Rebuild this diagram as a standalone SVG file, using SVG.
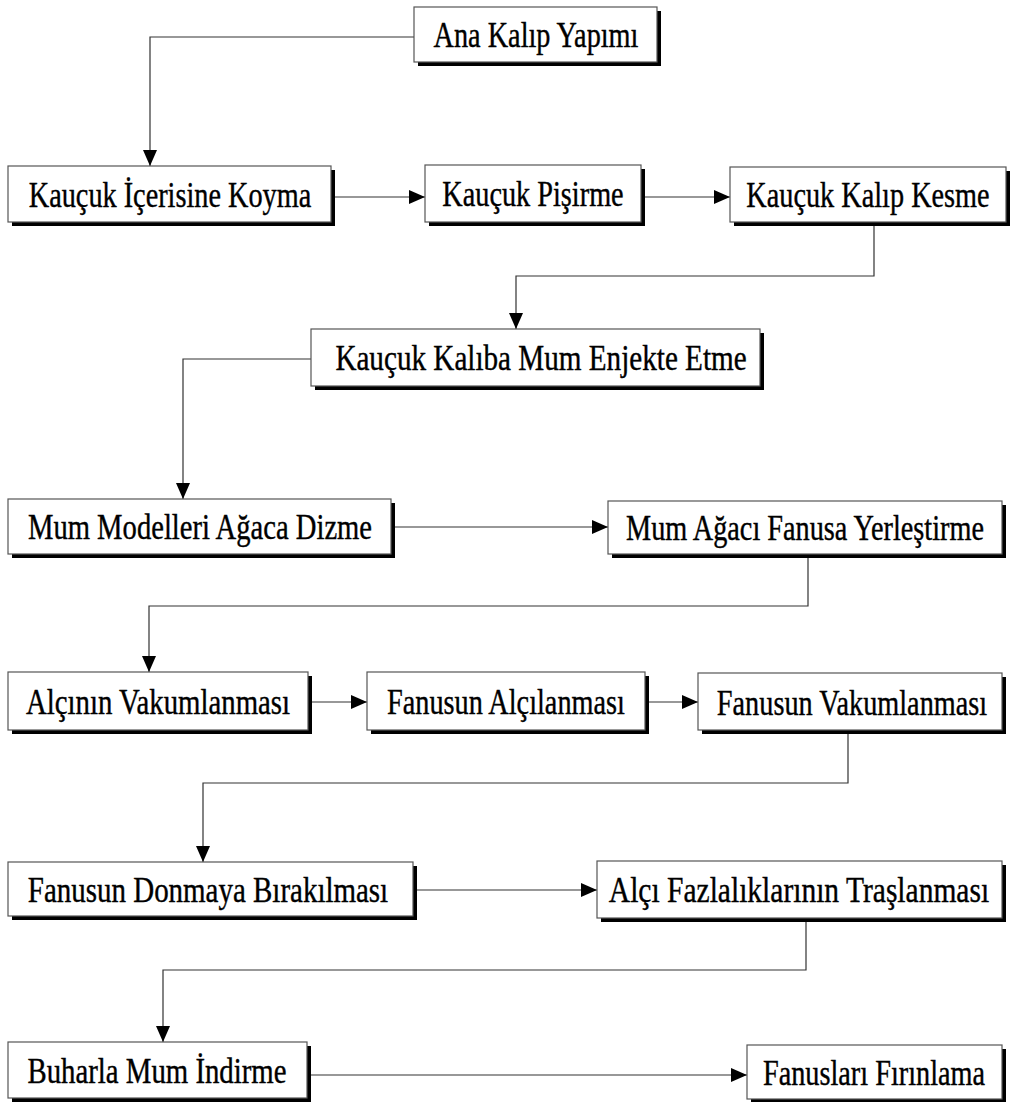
<svg xmlns="http://www.w3.org/2000/svg" width="1011" height="1102" viewBox="0 0 1011 1102">
<style>
.bg{fill:#fff}
.sh{fill:#000}
.bx{fill:#fff;stroke:#555;stroke-width:1.2}
.t{font-family:"Liberation Serif","Times New Roman",serif;font-size:36px;fill:#000;stroke:#000;stroke-width:0.4;text-anchor:middle}
.c{fill:none;stroke:#333;stroke-width:1.2}
</style>
<defs>
<marker id="ah" markerUnits="userSpaceOnUse" markerWidth="18" markerHeight="16" refX="16" refY="7" orient="auto">
<path d="M0,0 L16,7 L0,14 Z" fill="#000"/>
</marker>
</defs>
<rect class="bg" x="0" y="0" width="1011" height="1102"/>
<g id="connectors">
<path class="c" d="M414,37 H150 V166" marker-end="url(#ah)"/>
<path class="c" d="M335,197 H425" marker-end="url(#ah)"/>
<path class="c" d="M645,197 H730" marker-end="url(#ah)"/>
<path class="c" d="M874,226 V276 H516 V329" marker-end="url(#ah)"/>
<path class="c" d="M311,359 H183 V499" marker-end="url(#ah)"/>
<path class="c" d="M395,527 H608" marker-end="url(#ah)"/>
<path class="c" d="M808,557 V606 H149 V672" marker-end="url(#ah)"/>
<path class="c" d="M312,702 H367" marker-end="url(#ah)"/>
<path class="c" d="M649,702 H698" marker-end="url(#ah)"/>
<path class="c" d="M848,734 V783 H203 V862" marker-end="url(#ah)"/>
<path class="c" d="M417,890 H597" marker-end="url(#ah)"/>
<path class="c" d="M806,921 V970 H163 V1042" marker-end="url(#ah)"/>
<path class="c" d="M311,1075 H747" marker-end="url(#ah)"/>
</g>
<g id="n1"><rect class="sh" x="418" y="11" width="243" height="55"/><rect class="bx" x="414" y="7" width="243" height="55"/><text class="t" transform="translate(536,47) scale(0.785,1)">Ana Kalıp Yapımı</text></g>
<g id="n2"><rect class="sh" x="12" y="170" width="323" height="56"/><rect class="bx" x="8" y="166" width="323" height="56"/><text class="t" transform="translate(170,207) scale(0.785,1)">Kauçuk İçerisine Koyma</text></g>
<g id="n3"><rect class="sh" x="429" y="169" width="216" height="57"/><rect class="bx" x="425" y="165" width="216" height="57"/><text class="t" transform="translate(533,206) scale(0.785,1)">Kauçuk Pişirme</text></g>
<g id="n4"><rect class="sh" x="734" y="171" width="276" height="55"/><rect class="bx" x="730" y="167" width="276" height="55"/><text class="t" transform="translate(868,207) scale(0.785,1)">Kauçuk Kalıp Kesme</text></g>
<g id="n5"><rect class="sh" x="315" y="333" width="449" height="57"/><rect class="bx" x="311" y="329" width="449" height="57"/><text class="t" transform="translate(541,370) scale(0.81,1)">Kauçuk Kalıba Mum Enjekte Etme</text></g>
<g id="n6"><rect class="sh" x="12" y="503" width="383" height="55"/><rect class="bx" x="8" y="499" width="383" height="55"/><text class="t" transform="translate(200,539) scale(0.795,1)">Mum Modelleri Ağaca Dizme</text></g>
<g id="n7"><rect class="sh" x="612" y="505" width="394" height="53"/><rect class="bx" x="608" y="501" width="394" height="53"/><text class="t" transform="translate(805,540) scale(0.785,1)">Mum Ağacı Fanusa Yerleştirme</text></g>
<g id="n8"><rect class="sh" x="12" y="676" width="300" height="58"/><rect class="bx" x="8" y="672" width="300" height="58"/><text class="t" transform="translate(158,714) scale(0.8,1)">Alçının Vakumlanması</text></g>
<g id="n9"><rect class="sh" x="371" y="676" width="278" height="58"/><rect class="bx" x="367" y="672" width="278" height="58"/><text class="t" transform="translate(506,714) scale(0.785,1)">Fanusun Alçılanması</text></g>
<g id="n10"><rect class="sh" x="702" y="677" width="304" height="57"/><rect class="bx" x="698" y="673" width="304" height="57"/><text class="t" transform="translate(852,715) scale(0.785,1)">Fanusun Vakumlanması</text></g>
<g id="n11"><rect class="sh" x="12" y="866" width="405" height="54"/><rect class="bx" x="8" y="862" width="405" height="54"/><text class="t" transform="translate(208,902) scale(0.805,1)">Fanusun Donmaya Bırakılması</text></g>
<g id="n12"><rect class="sh" x="601" y="865" width="405" height="57"/><rect class="bx" x="597" y="861" width="405" height="57"/><text class="t" transform="translate(799,902) scale(0.82,1)">Alçı Fazlalıklarının Traşlanması</text></g>
<g id="n13"><rect class="sh" x="12" y="1046" width="299" height="56"/><rect class="bx" x="8" y="1042" width="299" height="56"/><text class="t" transform="translate(157,1083) scale(0.8,1)">Buharla Mum İndirme</text></g>
<g id="n14"><rect class="sh" x="751" y="1049" width="255" height="54"/><rect class="bx" x="747" y="1045" width="255" height="54"/><text class="t" transform="translate(874,1085) scale(0.785,1)">Fanusları Fırınlama</text></g>
</svg>
